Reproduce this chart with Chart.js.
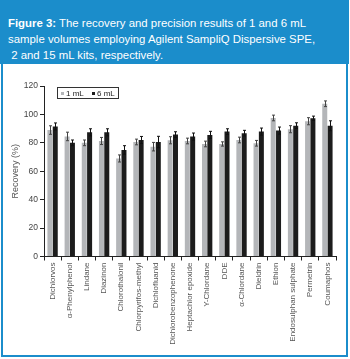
<!DOCTYPE html>
<html>
<head>
<meta charset="utf-8">
<script src="https://cdn.jsdelivr.net/npm/chart.js@4/dist/chart.umd.min.js"></script>
<style>
    html, body { margin: 0; padding: 0; background: #fff; }
    body { width: 350px; height: 359px; position: relative; overflow: hidden;
           font-family: "Liberation Sans", Arial, Helvetica, sans-serif; }
    .frame { position: absolute; left: 1px; top: 0; width: 343px; height: 353px;
             border: 2px solid #1b8dcb; }
    .header { position: absolute; left: 0; top: 0; width: 349px; height: 64px;
              background: #1b8dcb; color: #fff; }
    .header p { margin: 0; position: absolute; left: 8px; top: 15px;
                font-size: 11.4px; line-height: 16px; white-space: pre; }
    .chart-box { position: absolute; left: 0; top: 64px; width: 350px; height: 290px; }
</style>
</head>
<body>
<div class="frame"></div>
<div class="header"><p><b>Figure 3:</b> The recovery and precision results of 1 and 6 mL
sample volumes employing Agilent SampliQ Dispersive SPE,
 2 and 15 mL kits, respectively.</p></div>
<div class="chart-box"><canvas id="recovery" width="350" height="290"></canvas></div>

<script>
// pesticides on the x axis
var compounds = [
    "Dichlorvos", "α-Phenylphenol", "Lindane", "Diazinon", "Chlorothalonil",
    "Chlorpyrifos-methyl", "Dichlofluanid", "Dichlorobenzophenone", "Heptachlor epoxide",
    "Y-Chlordane", "DDE", "α-Chlordane", "Dieldrin", "Ethion",
    "Endosulphan sulphate", "Permetrin", "Coumaphos"
];

// mean recovery (%)
var recovery1mL = [89, 84.5, 80, 81.3, 69, 80.6, 77.3, 81.8, 81.3, 79.2, 79.2, 82, 79.7, 97.5, 89.6, 95.2, 107.5];
var recovery6mL = [91.5, 80, 87.4, 87.4, 75, 82, 80.6, 85.8, 84.4, 85.6, 87.9, 86.8, 87.9, 88.6, 92.1, 97.3, 92];

// standard deviation (error bars)
var sd1mL = [3, 3, 2, 2.5, 2.5, 2, 3, 2.5, 2, 2, 1.5, 2, 2, 2, 2.5, 2.5, 2];
var sd6mL = [2.5, 2, 2.5, 2.5, 3, 2.5, 4, 2, 2.5, 2.5, 2, 2, 2.5, 2.5, 2, 1.5, 3.5];

var yTicks = [0, 20, 40, 60, 80, 100, 120];

var FONT = "'Liberation Sans', Arial, Helvetica, sans-serif";

(function () {
    'use strict';

    /* draws mean +/- sd whiskers on top of each bar */
    var errorBars = {
        id: 'errorBars',
        afterDatasetsDraw: function (chart) {
            var ctx = chart.ctx;
            var yScale = chart.scales.y;
            chart.data.datasets.forEach(function (ds, i) {
                var meta = chart.getDatasetMeta(i);
                meta.data.forEach(function (bar, j) {
                    var v = ds.data[j], e = ds.errors[j];
                    var top = yScale.getPixelForValue(v + e);
                    var bot = yScale.getPixelForValue(v - e);
                    var x = Math.round(bar.x) + 0.5;
                    ctx.save();
                    ctx.strokeStyle = ds.whisker;
                    ctx.lineWidth = 1;
                    ctx.beginPath();
                    ctx.moveTo(x, top); ctx.lineTo(x, bot);
                    ctx.moveTo(x - 1.5, top); ctx.lineTo(x + 1.5, top);
                    ctx.moveTo(x - 1.5, bot); ctx.lineTo(x + 1.5, bot);
                    ctx.stroke();
                    ctx.restore();
                });
            });
        }
    };

    /* little boxed legend in the upper-left of the plot */
    var boxLegend = {
        id: 'boxLegend',
        afterDraw: function (chart) {
            var ctx = chart.ctx;
            var x0 = chart.chartArea.left + 13, y0 = chart.chartArea.top + 1;
            ctx.save();
            ctx.strokeStyle = '#333';
            ctx.lineWidth = 1;
            ctx.strokeRect(x0 + 0.5, y0 + 0.5, 61, 11);
            ctx.font = '8px ' + FONT;
            ctx.textBaseline = 'middle';
            chart.data.datasets.forEach(function (ds, i) {
                var lx = x0 + 4 + i * 31;
                ctx.fillStyle = ds.backgroundColor;
                ctx.fillRect(lx, y0 + 5, 3, 3);
                ctx.fillStyle = '#222';
                ctx.fillText(ds.label, lx + 5, y0 + 7);
            });
            ctx.restore();
        }
    };

    var ctx = document.getElementById('recovery').getContext('2d');

    new Chart(ctx, {
        type: 'bar',
        data: {
            labels: compounds,
            datasets: [{
                label: '1 mL',
                data: recovery1mL,
                errors: sd1mL,
                backgroundColor: '#b4b6b9',
                whisker: '#444'
            }, {
                label: '6 mL',
                data: recovery6mL,
                errors: sd6mL,
                backgroundColor: '#1c1c1c',
                whisker: '#111'
            }]
        },
        options: {
            responsive: false,
            devicePixelRatio: 1,
            animation: false,
            layout: { padding: { top: 22, right: 14, left: 0, bottom: 0 } },
            plugins: {
                legend: { display: false },
                tooltip: { enabled: false }
            },
            datasets: {
                bar: { categoryPercentage: 0.62, barPercentage: 0.94, borderWidth: 0 }
            },
            scales: {
                x: {
                    grid: { offset: true, drawOnChartArea: false, tickLength: 4, color: '#222' },
                    border: { color: '#222', width: 1 },
                    ticks: {
                        autoSkip: false, maxRotation: 90, minRotation: 90, padding: 2,
                        color: '#555', font: { family: FONT, size: 8 }
                    },
                    afterFit: function (scale) { scale.height = 97.5; }
                },
                y: {
                    min: 0, max: 120,
                    afterBuildTicks: function (scale) {
                        scale.ticks = yTicks.map(function (v) { return { value: v }; });
                    },
                    grid: { drawOnChartArea: false, tickLength: 4, color: '#222' },
                    border: { color: '#222', width: 1 },
                    ticks: { padding: 2, color: '#444', font: { family: FONT, size: 8.5 } },
                    title: {
                        display: true, text: 'Recovery (%)', color: '#555',
                        font: { family: FONT, size: 9 }, padding: { top: 10, bottom: 0 }
                    },
                    afterFit: function (scale) { scale.width = 44; }
                }
            }
        },
        plugins: [errorBars, boxLegend]
    });
})();
</script>
</body>
</html>
